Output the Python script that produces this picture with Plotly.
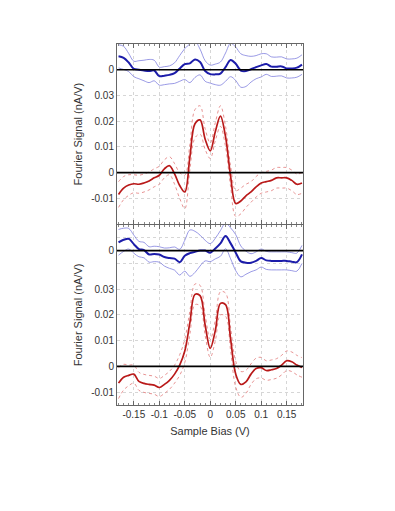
import plotly.graph_objects as go

bias = [round(-0.18 + 0.01 * i, 2) for i in range(37)]

# values in units of 1e-3 nA/V
top_red = [-8.5, -6, -4.8, -4.3, -4.5, -4, -3.2, -2, -1, 1.5, 2.7, -0.5, -5, -7.5,
           6, 19, 20.5, 13, 8.5, 16, 22, 14, -1.5, -12, -11, -9, -7.5, -5.5, -4,
           -3.5, -3, -2, -2, -2, -3, -4.5, -4]
top_red_err = [5, 4.5, 4, 3.5, 3.5, 3.5, 3.5, 3.5, 3.5, 3.5, 3.5, 4, 5, 6.5,
               5, 5.5, 5.5, 4, 3, 3.5, 4, 4, 4, 5, 5, 4.5, 4, 4, 4,
               4, 4, 4, 4, 4, 4, 4, 4]
top_blue = [5.2, 4.6, 2.8, 0.3, 0, -0.3, -0.5, -0.3, -2.5, -2.3, -2, -1.3, 0.5, 2.2,
            2.5, 4, 3, -0.5, -1.7, -1.8, -1.5, 1, 3.8, 2.3, -0.3, -0.5, 0.2, 1, 1.7,
            2.2, 1.2, 1.2, 1.3, 0.5, 0.5, 0.8, 2]
top_blue_err = [4.5, 4.5, 3.5, 3, 3.5, 4, 4.5, 4, 3.5, 3.5, 3.5, 4, 5, 6,
                7.5, 7, 5, 4, 3.5, 4, 4.5, 5.5, 6.5, 6.5, 6.5, 6, 5, 4.5, 4.5,
                4, 3.8, 3.7, 3.7, 3.7, 3.7, 3.7, 3.8]

bot_red = [-6.5, -4.2, -3.5, -3, -5.8, -6.6, -7, -7.3, -8.2, -7, -5.4, -3, 0.5, 6,
           17, 28, 27.5, 16, 7, 14, 24.5, 24, 10.5, -3, -7, -6, -3, -0.8, -0.5,
           -1.6, -1.3, -0.8, 0.5, 2.2, 1.8, 0.5, -0.4]
bot_red_err = [6, 5, 4, 3.5, 3.5, 3.5, 3.5, 3.5, 3.5, 3.5, 3.5, 3.5, 4, 4.5,
               4.5, 4, 4, 4, 3.5, 4, 4.5, 4.5, 4.5, 5, 5, 4.5, 4, 4, 4,
               3.8, 3.8, 3.8, 3.8, 3.8, 3.8, 3.8, 3.8]
bot_blue = [3.2, 4.2, 4.6, 2.5, 0.6, 0.2, -1.5, -1.3, -1.5, -2.5, -2.9, -3.1, -4.5, -2,
            -1, -0.5, 0, 0, -0.8, 0.8, 2.8, 5.7, 2.8, -0.8, -4.2, -4.7, -4.7, -4, -2.9,
            -3.8, -4, -4, -4, -4, -4.3, -4.5, -1.5]
bot_blue_err = [5, 4.5, 4, 3.5, 3, 3, 3, 3, 3, 3.5, 4, 4.5, 5, 6,
                9, 8, 6, 4, 3.5, 4, 5, 5, 6, 7, 6, 4.5, 3.5, 3.5, 3.5,
                3.5, 3.5, 3.5, 3.5, 3.5, 3.5, 3.5, 3.5]

TOP_BLUE_OFFSET = 0.04
BOT_BLUE_OFFSET = 0.045
SCALE = 1e-3

x_ticks = [-0.15, -0.1, -0.05, 0, 0.05, 0.1, 0.15]
x_ticktext = ["-0.15", "-0.1", "-0.05", "0", "0.05", "0.1", "0.15"]
top_yticks = [-0.02, -0.01, 0, 0.01, 0.02, 0.03, 0.04, 0.05]
top_yticktext = ["", "-0.01", "0", "0.01", "0.02", "0.03", "0", ""]
bot_yticks = [-0.01, 0, 0.01, 0.02, 0.03, 0.04, 0.045, 0.05]
bot_yticktext = ["-0.01", "0", "0.01", "0.02", "0.03", "", "0", ""]

BLUE = "rgb(28,28,170)"
BLUE_L = "rgba(120,120,220,0.75)"
RED = "rgb(185,25,25)"
RED_L = "rgba(225,120,120,0.8)"

fig = go.Figure()


def add_curve(vals, errs, offset, color, lcolor, dash, width, xa, ya):
    m = [v * SCALE + offset for v in vals]
    up = [(v + e) * SCALE + offset for v, e in zip(vals, errs)]
    lo = [(v - e) * SCALE + offset for v, e in zip(vals, errs)]
    for band in (up, lo):
        fig.add_trace(go.Scatter(x=bias, y=band, mode="lines", xaxis=xa, yaxis=ya,
                                 line=dict(color=lcolor, width=1, dash=dash, shape="spline", smoothing=1),
                                 hoverinfo="skip", showlegend=False))
    fig.add_trace(go.Scatter(x=bias, y=m, mode="lines", xaxis=xa, yaxis=ya,
                             line=dict(color=color, width=width, shape="spline", smoothing=1),
                             showlegend=False))


add_curve(top_blue, top_blue_err, TOP_BLUE_OFFSET, BLUE, BLUE_L, "solid", 2, "x", "y")
add_curve(top_red, top_red_err, 0, RED, RED_L, "dot", 1.7, "x", "y")
add_curve(bot_blue, bot_blue_err, BOT_BLUE_OFFSET, BLUE, BLUE_L, "solid", 2, "x2", "y2")
add_curve(bot_red, bot_red_err, 0, RED, RED_L, "dot", 1.7, "x2", "y2")

for xr, yr, yv in (("x", "y", 0), ("x", "y", TOP_BLUE_OFFSET), ("x2", "y2", 0), ("x2", "y2", BOT_BLUE_OFFSET)):
    fig.add_shape(type="line", xref=xr + " domain", yref=yr, x0=0, x1=1, y0=yv, y1=yv,
                  line=dict(color="black", width=1.6), layer="above")

font = dict(family="Liberation Sans, Arial, sans-serif", size=10, color="#333")
common_x = dict(range=[-0.183, 0.182], tickvals=x_ticks, ticktext=x_ticktext,
                showgrid=True, gridcolor="#d6d6d6", griddash="dot", gridwidth=1,
                showline=True, linecolor="#666", linewidth=1, mirror="ticks",
                ticks="inside", ticklen=4, tickcolor="#666",
                minor=dict(dtick=0.01, ticks="inside", ticklen=2, tickcolor="#888", showgrid=False),
                zeroline=False, tickfont=font)
common_y = dict(showgrid=True, gridcolor="#d6d6d6", griddash="dot", gridwidth=1,
                showline=True, linecolor="#666", linewidth=1, mirror=True,
                ticks="", zeroline=False, tickfont=font,
                title=dict(text="Fourier Signal (nA/V)", font=dict(family=font["family"], size=11, color="#333"), standoff=6))

fig.update_layout(
    width=395, height=511,
    margin=dict(l=109, r=100, t=36, b=114),
    paper_bgcolor="white", plot_bgcolor="white",
    xaxis=dict(common_x, anchor="y", showticklabels=False),
    yaxis=dict(common_y, domain=[0.501, 1], range=[-0.02, 0.05],
               tickvals=top_yticks, ticktext=top_yticktext),
    xaxis2=dict(common_x, anchor="y2",
                title=dict(text="Sample Bias (V)", font=dict(family=font["family"], size=11, color="#333"), standoff=8)),
    yaxis2=dict(common_y, domain=[0, 0.499], range=[-0.015, 0.055],
                tickvals=bot_yticks, ticktext=bot_yticktext),
    showlegend=False,
)

fig.write_html("out.html")
